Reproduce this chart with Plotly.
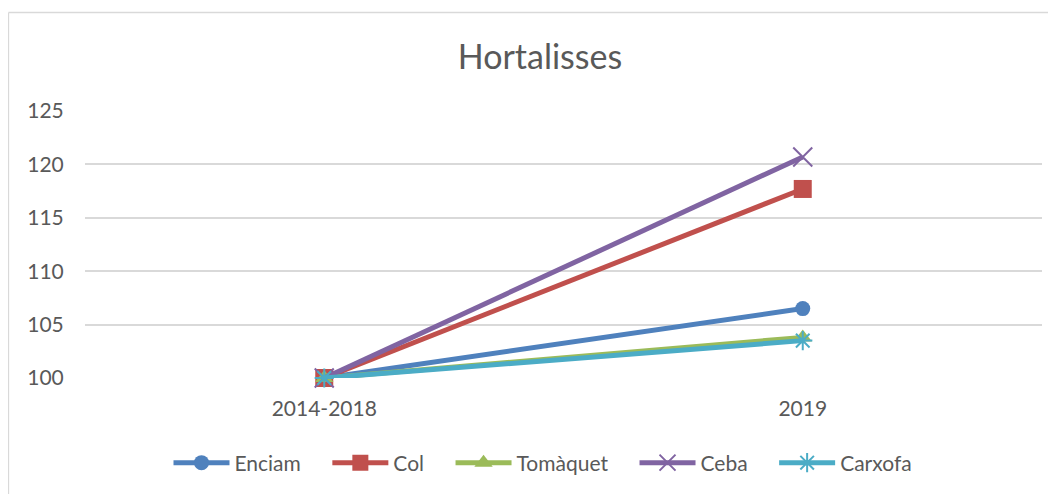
import plotly.graph_objects as go

categories = ["2014-2018", "2019"]
series_names = ["Enciam", "Col", "Tomàquet", "Ceba", "Carxofa"]
enciam = [100, 106.5]
col = [100, 117.7]
tomaquet = [100, 103.8]
ceba = [100, 120.7]
carxofa = [100, 103.5]
y_ticks = [100, 105, 110, 115, 120, 125]

values = [enciam, col, tomaquet, ceba, carxofa]
colors = ["#4F81BD", "#C0504D", "#9BBB59", "#8064A2", "#4BACC6"]
symbols = ["circle", "square", "triangle-up", "x-thin", "asterisk"]
sizes = [15, 18, 16, 19, 16]

FONT = "Lato, Open Sans, sans-serif"
PAD = "\u00a0" * 4  # extra spacing between legend entries
fig = go.Figure()
for i, (name, vals, c, s, sz) in enumerate(zip(series_names, values, colors, symbols, sizes)):
    if s in ("x-thin", "asterisk"):
        marker = dict(symbol=s, size=sz, color=c, line=dict(color=c, width=2))
    else:
        marker = dict(symbol=s, size=sz, color=c, line=dict(width=0))
    label = name + (PAD if i < len(series_names) - 1 else "")
    fig.add_trace(go.Scatter(x=categories, y=vals, name=label, mode="lines+markers",
                             line=dict(color=c, width=5), marker=marker, cliponaxis=False))

# page body has an 8px margin: figure starts at (8, 8) on screen
OFF = 8
W, H = 1056, 494
L, R = 85 - OFF, W + OFF - 1042
T, B = 111 - OFF, H + OFF - 378
pw, ph = W - L - R, H - T - B

def px(x):  # screen x -> paper
    return (x - OFF - L) / pw

def py(y):  # screen y -> paper
    return (H - B - (y - OFF)) / ph

fig.update_layout(
    width=W, height=H,
    margin=dict(l=L, r=R, t=T, b=B),
    paper_bgcolor="white", plot_bgcolor="white",
    title=dict(text="Hortalisses", x=(540 - OFF) / W, xanchor="center", y=1 - (57 - OFF) / H, yanchor="middle",
               font=dict(family=FONT, size=34, color="#595959")),
    font=dict(family=FONT, size=21, color="#595959"),
    showlegend=True,
    legend=dict(orientation="h", x=px(543), xanchor="center", y=py(463), yanchor="middle",
                font=dict(family=FONT, size=21, color="#595959"), itemwidth=56,
                traceorder="normal"),
    xaxis=dict(type="category", range=[-0.5, 1.5], showgrid=False, showline=False, zeroline=False,
               ticks="outside", ticklen=12, tickcolor="rgba(0,0,0,0)",
               tickfont=dict(family=FONT, size=21, color="#595959")),
    yaxis=dict(range=[100, 125], tickvals=y_ticks, showgrid=True, gridcolor="#D9D9D9", gridwidth=1.5,
               zeroline=False, showline=False, ticks="outside", ticklen=16, tickcolor="rgba(0,0,0,0)",
               tickfont=dict(family=FONT, size=21, color="#595959")),
    shapes=[
        dict(type="line", xref="paper", yref="paper", x0=px(8.5), x1=px(1070), y0=py(12.5), y1=py(12.5),
             line=dict(color="#D9D9D9", width=1.3)),
        dict(type="line", xref="paper", yref="paper", x0=px(8.5), x1=px(8.5), y0=py(12.5), y1=py(510),
             line=dict(color="#D9D9D9", width=1.3)),
    ],
)

fig.write_html("out.html")
